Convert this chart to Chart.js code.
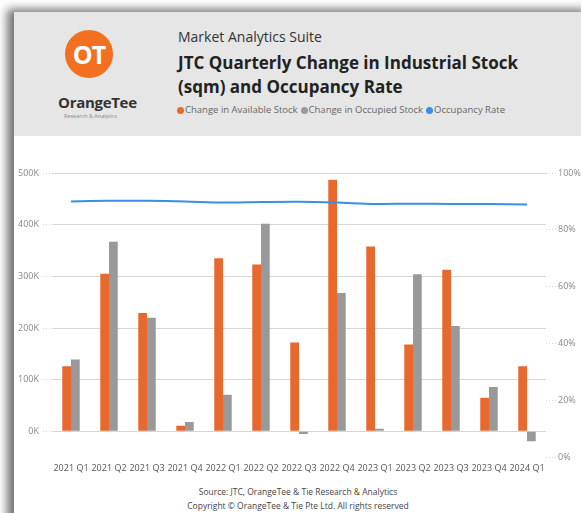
<!DOCTYPE html>
<html>
<head>
<meta charset="utf-8">
<script src="https://cdn.jsdelivr.net/npm/chart.js@4/dist/chart.umd.min.js"></script>
<style>
  body { margin: 0; width: 581px; height: 513px; overflow: hidden; background: #fff; font-family: "Open Sans", "Noto Sans", sans-serif; position: relative; }
  #cut-title { position: absolute; top: -23px; left: 0; width: 581px; text-align: center; font-weight: bold; font-size: 18px; color: #111; white-space: nowrap; }
  #card { position: absolute; left: 14px; top: 12px; width: 580px; height: 520px; background: #fff; box-shadow: -7px -3px 9px rgba(0,0,0,0.55); }
  #header { position: absolute; left: 0; top: 0; width: 100%; height: 124px; background: #e6e6e6; }
  #logo { position: absolute; left: 51px; top: 18px; width: 48px; height: 48px; border-radius: 50%; background: #f37021; color: #fff; font-size: 25px; line-height: 48px; text-align: center; font-weight: bold; letter-spacing: -1px; }
  #logo-name { position: absolute; left: 44px; top: 80px; font-size: 15px; font-weight: bold; color: #333; letter-spacing: -0.3px; }
  #logo-sub { position: absolute; left: 50px; top: 100px; font-size: 5.5px; color: #888; }
  #suite { position: absolute; left: 164px; top: 15px; font-size: 14px; color: #333; }
  #title { position: absolute; left: 164px; top: 39px; font-size: 17px; font-weight: bold; color: #222; line-height: 24px; }
  #legend { position: absolute; left: 163px; top: 91px; font-size: 9.5px; color: #666; white-space: nowrap; }
  #legend span.dot { display: inline-block; width: 7px; height: 7px; border-radius: 50%; margin-right: 1px; vertical-align: -0.5px; }
  #legend span.item { margin-right: 3px; }
  #wrap { position: absolute; left: 15px; top: 150px; width: 566px; height: 330px; }
  #source { position: absolute; left: 0; top: 485px; width: 596px; text-align: center; font-size: 8.5px; color: #444; line-height: 14px; }
</style>
</head>
<body>
<div id="cut-title">JTC Quarterly Change in Industrial Stock and Occupancy Rate</div>
<div id="card">
  <div id="header">
    <div id="logo">OT</div>
    <div id="logo-name">OrangeTee</div>
    <div id="logo-sub">Research &amp; Analytics</div>
    <div id="suite">Market Analytics Suite</div>
    <div id="title">JTC Quarterly Change in Industrial Stock<br>(sqm) and Occupancy Rate</div>
    <div id="legend"></div>
  </div>
</div>
<div id="wrap"><canvas id="chart"></canvas></div>
<div id="source">Source: JTC, OrangeTee &amp; Tie Research &amp; Analytics<br>Copyright © OrangeTee &amp; Tie Pte Ltd. All rights reserved</div>
<script>
// Data
const quarters = ["2021 Q1", "2021 Q2", "2021 Q3", "2021 Q4", "2022 Q1", "2022 Q2", "2022 Q3",
                  "2022 Q4", "2023 Q1", "2023 Q2", "2023 Q3", "2023 Q4", "2024 Q1"];
const availableStock = [126000, 305000, 229000, 11000, 335000, 323000, 172000, 487000, 358000, 168000, 313000, 65000, 126000];
const occupiedStock = [139000, 367000, 220000, 18000, 71000, 402000, -5000, 268000, 5000, 304000, 204000, 86000, -19000];
const occupancyRate = [90.0, 90.2, 90.2, 90.0, 89.6, 89.8, 89.9, 89.6, 89.1, 89.2, 89.1, 89.1, 88.9];

// Axis ticks
const stockTicks = [0, 100000, 200000, 300000, 400000, 500000];
const rateTicks = [0, 20, 40, 60, 80, 100];

const seriesNames = ["Change in Available Stock", "Change in Occupied Stock", "Occupancy Rate"];
const seriesColors = ["#e8692e", "#999999", "#3a8ee6"];

// Legend sits in the grey header
const legend = document.getElementById("legend");
seriesNames.forEach((name, i) => {
    legend.innerHTML += '<span class="item"><span class="dot" style="background:' + seriesColors[i] + '"></span>' + name + '</span>';
});

const axisFont = { family: "'Open Sans', 'Noto Sans', sans-serif", size: 9 };

new Chart(document.getElementById("chart"), {
    type: "bar",
    data: {
        labels: quarters,
        datasets: [
            {
                type: "line",
                label: seriesNames[2],
                data: occupancyRate,
                yAxisID: "yRate",
                borderColor: seriesColors[2],
                borderWidth: 2,
                pointRadius: 0,
                tension: 0.3,
                order: 0,
            },
            {
                label: seriesNames[0],
                data: availableStock,
                yAxisID: "yStock",
                backgroundColor: seriesColors[0],
                categoryPercentage: 0.46,
                barPercentage: 1.0,
                order: 1,
            },
            {
                label: seriesNames[1],
                data: occupiedStock,
                yAxisID: "yStock",
                backgroundColor: seriesColors[1],
                categoryPercentage: 0.46,
                barPercentage: 1.0,
                order: 1,
            },
        ],
    },
    options: {
        responsive: true,
        maintainAspectRatio: false,
        animation: false,
        layout: { padding: { top: 23, bottom: 0, left: 0, right: 0 } },
        plugins: {
            legend: { display: false },
            tooltip: { enabled: false },
        },
        scales: {
            x: {
                grid: { display: false, drawTicks: false },
                border: { display: false },
                ticks: { color: "#555", font: axisFont, padding: 6, maxRotation: 0, autoSkip: false },
            },
            yStock: {
                position: "left",
                min: -50000,
                max: 500000,
                afterFit: (scale) => { scale.width = 37; },
                afterBuildTicks: (scale) => { scale.ticks = stockTicks.map((v) => ({ value: v })); },
                ticks: {
                    color: "#888",
                    font: axisFont,
                    padding: 4,
                    callback: (v) => (v / 1000) + "K",
                },
                grid: {
                    color: "#d6d6d6",
                    borderDash: [1, 2],
                    tickLength: 9,
                    tickColor: "#d6d6d6",
                    tickBorderDash: [1, 2],
                },
                border: { display: false },
            },
            yRate: {
                position: "right",
                min: 0,
                max: 100,
                afterFit: (scale) => { scale.width = 35; },
                afterBuildTicks: (scale) => { scale.ticks = rateTicks.map((v) => ({ value: v })); },
                ticks: {
                    color: "#888",
                    font: axisFont,
                    padding: 2,
                    callback: (v) => v + "%",
                },
                grid: {
                    drawOnChartArea: false,
                    tickLength: 10,
                    tickColor: "#d6d6d6",
                    tickBorderDash: [1, 2],
                },
                border: { display: false },
            },
        },
    },
});
</script>
</body>
</html>
